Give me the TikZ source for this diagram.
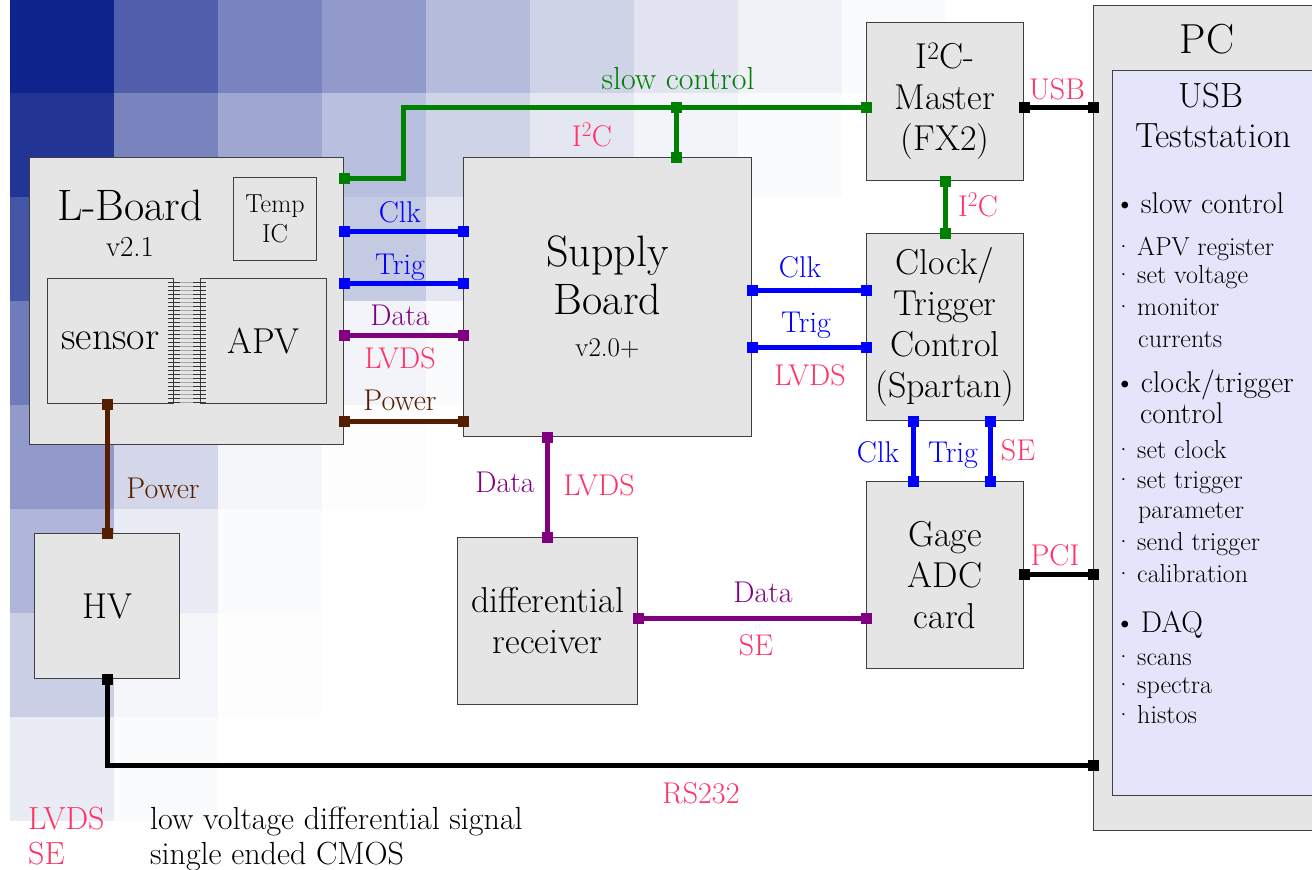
\documentclass[tikz,border=0pt]{standalone}
\usepackage{tikz}
\usetikzlibrary{positioning,
                arrows.meta}                % arrow tips

\definecolor{bgblue}{RGB}{15,35,140}
\definecolor{boxgray}{RGB}{229,229,229}
\definecolor{tsfill}{RGB}{228,228,250}
\definecolor{scgreen}{RGB}{0,128,0}
\definecolor{sigblue}{RGB}{0,0,255}
\definecolor{datapurple}{RGB}{128,0,128}
\definecolor{pwrbrown}{RGB}{85,30,0}
\definecolor{lblpink}{RGB}{255,51,102}

\newcommand{\boxfont}{\fontsize{36}{41}\selectfont}
\newcommand{\bigfont}{\fontsize{44}{48}\selectfont}
\newcommand{\lblfont}{\fontsize{30}{34}\selectfont}
\newcommand{\subfont}{\fontsize{26}{30}\selectfont}

\tikzset{
  unit/.style={draw=black!75, fill=boxgray, line width=1pt, inner sep=0pt,
               anchor=north west, align=center, font=\boxfont},
  wire/.style={line width=5pt, {Square[length=11pt,width=11pt]}-{Square[length=11pt,width=11pt]},
               shorten <=-5.5pt, shorten >=-5.5pt},
  lbl/.style={anchor=base, inner sep=0pt, font=\lblfont},
  item/.style={anchor=base west, inner sep=0pt, font=\lblfont},
  subitem/.style={anchor=base west, inner sep=0pt, font=\subfont},
}

\begin{document}
\begin{tikzpicture}[x=1pt, y=-1pt]
    \useasboundingbox (0,0) rectangle (1312,870);
    \clip (0,0) rectangle (1312,870);

    % background squares
    \foreach \vals [count=\r from 0] in {{100,73,56,46,31,20,12,6,2},
                                         {92,56,40,29,20,11,5,2,0},
                                         {77,45,30,24,11,4,1,0,0},
                                         {60,30,14,5,2,0,0,0,0},
                                         {46,18,4,1,0,0,0,0,0},
                                         {33,9,2,0,0,0,0,0,0},
                                         {22,4,1,0,0,0,0,0,0},
                                         {9,2,0,0,0,0,0,0,0}}
    {
        \foreach \p [count=\c from 0] in \vals
            \fill[bgblue!\p!white] (10+104*\c,-11+104*\r) rectangle ++(104,104);
    }

    % boxes
    \node[unit, minimum width=314pt, minimum height=287pt] (lboard) at (29,157) {};
    \node[anchor=base, inner sep=0pt, font=\bigfont] (lbname) at (130,220) {L-Board};
    \node[anchor=base, inner sep=0pt, font=\fontsize{29}{33}\selectfont] (lbver) at (130,256) {v2.1};
    \node[unit, minimum width=83pt, minimum height=83pt, font=\fontsize{26}{30}\selectfont] (tempic) at (233,177) {Temp\\IC};
    \node[unit, minimum width=126pt, minimum height=125pt, font=\fontsize{40}{44}\selectfont] (sensor) at (47,278) {sensor};
    \node[unit, minimum width=126pt, minimum height=125pt] (apv) at (200,278) {APV};
    \foreach \y in {282,286,...,402}
    {
        \draw[black!80, line width=0.8pt] (168,\y) -- (206,\y);
        \draw[black!35, line width=0.8pt] (180,\y) -- (193,\y);
    }

    \node[unit, minimum width=288pt, minimum height=279pt, font=\bigfont] (supply) at (463,157)
        {Supply\\Board\\[-6pt]{\fontsize{27}{30}\selectfont v2.0+}};
    \node[unit, minimum width=157pt, minimum height=158pt] (master) at (866,22) {I\textsuperscript{2}C-\\Master\\(FX2)};
    \node[unit, minimum width=157pt, minimum height=187pt] (clock) at (866,233) {Clock/\\Trigger\\Control\\(Spartan)};
    \node[unit, minimum width=157pt, minimum height=187pt] (gage) at (866,481) {Gage\\ADC\\card};
    \node[unit, minimum width=180pt, minimum height=167pt] (diffrec) at (457,537) {differential\\receiver};
    \node[unit, minimum width=145pt, minimum height=145pt] (hv) at (34,533) {HV};

    \node[unit, minimum width=240pt, minimum height=825pt] (pc) at (1093,5) {};
    \node[anchor=base, inner sep=0pt, font=\fontsize{42}{46}\selectfont] (pcname) at (1207,53) {PC};
    \node[unit, fill=tsfill, minimum width=220pt, minimum height=725pt] (usbts) at (1112,70) {};
    \node[anchor=base, inner sep=0pt, font=\fontsize{35}{40}\selectfont] (tsA) at (1211,107) {USB};
    \node[anchor=base, inner sep=0pt, font=\fontsize{35}{40}\selectfont] (tsB) at (1213,147) {Teststation};

    \node[item] (slowctl) at (1114,213) {\textbullet\,slow control};
    \node[item] (clkctl) at (1114,392) {\textbullet\,clock/trigger};
    \node[item] (clkctlB) at (1140,423) {control};
    \node[item] (daq) at (1114,632) {\textbullet\,DAQ};
    \foreach \y/\t [count=\k] in {255/APV register, 283/set voltage, 315/monitor,
                                  458/set clock, 488/set trigger, 550/send trigger,
                                  582/calibration, 665/scans, 693/spectra, 723/histos}
        \node[subitem] (sub\k) at (1114,\y) {\textperiodcentered\,\t};
    \node[subitem] (currents) at (1138,347) {currents};
    \node[subitem] (param) at (1138,518) {parameter};

    % connectors
    \draw[wire, scgreen] (lboard.east |- 0,178) -- (403,178) -- (403,107) -- (master.west |- 0,107);
    \coordinate (scjoin) at (676,107);
    \draw[wire, scgreen] (scjoin) -- (scjoin |- supply.north);
    \draw[wire, scgreen] (master.south) -- (clock.north);

    \draw[wire, sigblue] (lboard.east |- 0,231) -- (supply.west |- 0,231);
    \draw[wire, sigblue] (lboard.east |- 0,283) -- (supply.west |- 0,283);
    \draw[wire, datapurple] (lboard.east |- 0,335) -- (supply.west |- 0,335);
    \draw[wire, pwrbrown] (lboard.east |- 0,421) -- (supply.west |- 0,421);

    \draw[wire, sigblue] (supply.east |- 0,290) -- (clock.west |- 0,290);
    \draw[wire, sigblue] (supply.east |- 0,347) -- (clock.west |- 0,347);
    \draw[wire, sigblue] (clock.south -| 913,0) -- (gage.north -| 913,0);
    \draw[wire, sigblue] (clock.south -| 990,0) -- (gage.north -| 990,0);

    \draw[wire, datapurple] (supply.south -| diffrec.north) -- (diffrec.north);
    \draw[wire, datapurple] (diffrec.east |- 0,618) -- (gage.west |- 0,618);

    \draw[wire, black] (master.east |- 0,107) -- (pc.west |- 0,107);
    \draw[wire, black] (gage.east |- 0,574) -- (pc.west |- 0,574);

    \draw[wire, pwrbrown] (sensor.south -| hv.north) -- (hv.north);
    \draw[wire, black] (hv.south) |- (pc.west |- 0,765);

    % labels
    \node[lbl, scgreen, font=\fontsize{32}{36}\selectfont] (sclbl) at (678,89) {slow control};
    \node[lbl, lblpink] (i2cA) at (592,146) {I\textsuperscript{2}C};
    \node[lbl, lblpink] (i2cB) at (978,216) {I\textsuperscript{2}C};

    \node[lbl, sigblue] (clkA) at (400,222) {Clk};
    \node[lbl, sigblue] (trigA) at (400,274) {Trig};
    \node[lbl, datapurple] (dataA) at (400,325) {Data};
    \node[lbl, lblpink] (lvdsA) at (400,368) {LVDS};
    \node[lbl, pwrbrown] (pwrA) at (400,410) {Power};

    \node[lbl, sigblue] (clkB) at (800,277) {Clk};
    \node[lbl, sigblue] (trigB) at (806,332) {Trig};
    \node[lbl, lblpink] (lvdsB) at (810,385) {LVDS};

    \node[lbl, sigblue] (clkC) at (878,462) {Clk};
    \node[lbl, sigblue] (trigC) at (953,462) {Trig};
    \node[lbl, lblpink] (seA) at (1018,460) {SE};

    \node[lbl, datapurple] (dataB) at (505,492) {Data};
    \node[lbl, lblpink] (lvdsC) at (599,495) {LVDS};
    \node[lbl, datapurple] (dataC) at (763,602) {Data};
    \node[lbl, lblpink] (seB) at (756,655) {SE};

    \node[lbl, lblpink] (usblbl) at (1057,99) {USB};
    \node[lbl, lblpink] (pcilbl) at (1055,565) {PCI};
    \node[lbl, pwrbrown] (pwrB) at (163,498) {Power};
    \node[lbl, lblpink] (rslbl) at (701,803) {RS232};

    % legend
    \node[item, lblpink, font=\fontsize{32}{36}\selectfont] (legA) at (28,829) {LVDS};
    \node[item, font=\fontsize{32}{36}\selectfont] (legAt) at (150,829) {low voltage differential signal};
    \node[item, lblpink, font=\fontsize{32}{36}\selectfont] (legB) at (28,864) {SE};
    \node[item, font=\fontsize{32}{36}\selectfont] (legBt) at (150,864) {single ended CMOS};
\end{tikzpicture}
\end{document}
